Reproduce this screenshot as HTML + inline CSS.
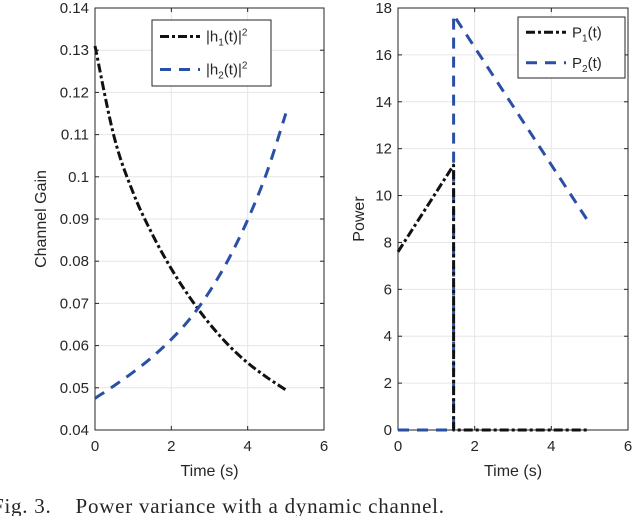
<!DOCTYPE html>
<html><head><meta charset="utf-8"><style>
body{margin:0;background:#fff;width:634px;height:516px;overflow:hidden}
text{font-family:"Liberation Sans",sans-serif;fill:#262626}
</style></head><body>
<svg width="634" height="516" id="fig"></svg>
<script>
const tVals=[0,0.5,1,1.5,2,2.5,3,3.5,4,4.5,5];
const h1Vals=[0.131,0.1095,0.0962,0.0864,0.0782,0.0712,0.0652,0.0601,0.0559,0.0525,0.0495];
const h2Vals=[0.0475,0.0505,0.0537,0.0573,0.0615,0.0665,0.0728,0.0805,0.0898,0.101,0.115];
const p1T=[0,1.45,1.45,5];
const p1Vals=[7.6,11.3,0,0];
const p2T=[0,1.45,1.45,5];
const p2Vals=[0,0,17.7,8.8];
const xTicks=[0,2,4,6];
const leftYTicks=[0.04,0.05,0.06,0.07,0.08,0.09,0.1,0.11,0.12,0.13,0.14];
const rightYTicks=[0,2,4,6,8,10,12,14,16,18];
const NS="http://www.w3.org/2000/svg";
const svg=document.getElementById('fig');
function el(tag,attrs,parent){const e=document.createElementNS(NS,tag);for(const k in attrs)e.setAttribute(k,attrs[k]);(parent||svg).appendChild(e);return e;}
function axes(name,x0,x1,y0,y1,ymin,ymax,yTicks,ylabel,ylx,fmt){
  const g=el('g',{});
  
  
  const sx=v=>x0+(v-0)/6*(x1-x0);
  const sy=v=>y0-(v-ymin)/(ymax-ymin)*(y0-y1);
  xTicks.forEach(v=>{
    const l=el('line',{x1:sx(v),x2:sx(v),y1:y1,y2:y0,stroke:'#e6e6e6','stroke-width':1},g);
    
    el('line',{x1:sx(v),x2:sx(v),y1:y0,y2:y0-4,stroke:'#262626'},g);
    el('line',{x1:sx(v),x2:sx(v),y1:y1,y2:y1+4,stroke:'#262626'},g);
    const t=el('text',{x:sx(v),y:y0+21,'text-anchor':'middle','font-size':15},g);t.textContent=v;
    
  });
  yTicks.forEach(v=>{
    const l=el('line',{x1:x0,x2:x1,y1:sy(v),y2:sy(v),stroke:'#e6e6e6','stroke-width':1},g);
    
    el('line',{x1:x0,x2:x0+4,y1:sy(v),y2:sy(v),stroke:'#262626'},g);
    el('line',{x1:x1,x2:x1-4,y1:sy(v),y2:sy(v),stroke:'#262626'},g);
    const t=el('text',{x:x0-6,y:sy(v)+5,'text-anchor':'end','font-size':15},g);t.textContent=fmt(v);
    
  });
  const r=el('rect',{x:x0,y:y1,width:x1-x0,height:y0-y1,fill:'none',stroke:'#262626','stroke-width':1},g);
  
  const xl=el('text',{x:(x0+x1)/2,y:y0+46,'text-anchor':'middle','font-size':16},g);xl.textContent='Time (s)';
  
  const yl=el('text',{x:ylx,y:(y0+y1)/2,'text-anchor':'middle','font-size':16,transform:`rotate(-90 ${ylx} ${(y0+y1)/2})`},g);yl.textContent=ylabel;
  
  return {sx,sy,g};
}
function line(ax,xs,ys,color,dash,name,smooth){
  const P=xs.map((x,i)=>[ax.sx(x),ax.sy(ys[i])]);
  let d='M'+P[0][0].toFixed(1)+','+P[0][1].toFixed(1);
  for(let i=1;i<P.length;i++){
    if(smooth){
      const p0=P[Math.max(i-2,0)],p1=P[i-1],p2=P[i],p3=P[Math.min(i+1,P.length-1)];
      const c1=[p1[0]+(p2[0]-p0[0])/6,p1[1]+(p2[1]-p0[1])/6];
      const c2=[p2[0]-(p3[0]-p1[0])/6,p2[1]-(p3[1]-p1[1])/6];
      d+=` C${c1[0].toFixed(1)},${c1[1].toFixed(1)} ${c2[0].toFixed(1)},${c2[1].toFixed(1)} ${p2[0].toFixed(1)},${p2[1].toFixed(1)}`;
    } else d+=' L'+P[i][0].toFixed(1)+','+P[i][1].toFixed(1);
  }
  const p=el('path',{d:d,fill:'none',stroke:color,'stroke-width':3,'stroke-dasharray':dash,'stroke-linejoin':'round'},ax.g);
  
}
function legend(x,y,w,h,items,name){
  const g=el('g',{});
  
  el('rect',{x:x,y:y,width:w,height:h,fill:'#fff',stroke:'#262626'},g);
  items.forEach((it,i)=>{
    const yy=y+h*(i+0.5)/items.length;
    el('line',{x1:x+8,x2:x+48,y1:yy,y2:yy,stroke:it[1],'stroke-width':3,'stroke-dasharray':it[2]},g);
    const t=el('text',{x:x+54,y:yy+5,'font-size':15},g);t.innerHTML=it[0];
    
  });
}
const blk='#111',blu='#2a4fa6';
const A=axes('left-axes',95,324,430,8,0.04,0.14,leftYTicks,'Channel Gain',46,v=>v===0.1?'0.1':v.toFixed(2));
line(A,tVals,h1Vals,blk,'9,3,3,3','h1-line',true);
line(A,tVals,h2Vals,blu,'11,8','h2-line',true);
legend(152,20,119,66,[['|h<tspan font-size="10" dy="4">1</tspan><tspan dy="-4">(t)|</tspan><tspan font-size="10" dy="-6">2</tspan>',blk,'9,3,3,3'],['|h<tspan font-size="10" dy="4">2</tspan><tspan dy="-4">(t)|</tspan><tspan font-size="10" dy="-6">2</tspan>',blu,'11,8']],'left-legend');
const B=axes('right-axes',398,628,430,8,0,18,rightYTicks,'Power',364,v=>v);
line(B,p2T,p2Vals,blu,'11,8','p2-line',false);
line(B,p1T,p1Vals,blk,'9,3,3,3','p1-line',false);
legend(518,17,107,61,[['P<tspan font-size="10" dy="4">1</tspan><tspan dy="-4">(t)</tspan>',blk,'9,3,3,3'],['P<tspan font-size="10" dy="4">2</tspan><tspan dy="-4">(t)</tspan>',blu,'11,8']],'right-legend');
const c=el('text',{x:-8,y:513,'font-size':21,textLength:452,lengthAdjust:'spacing',style:'font-family:"Liberation Serif",serif;white-space:pre',fill:'#111'});
c.textContent='Fig. 3.    Power variance with a dynamic channel.';


</script>
</body></html>
